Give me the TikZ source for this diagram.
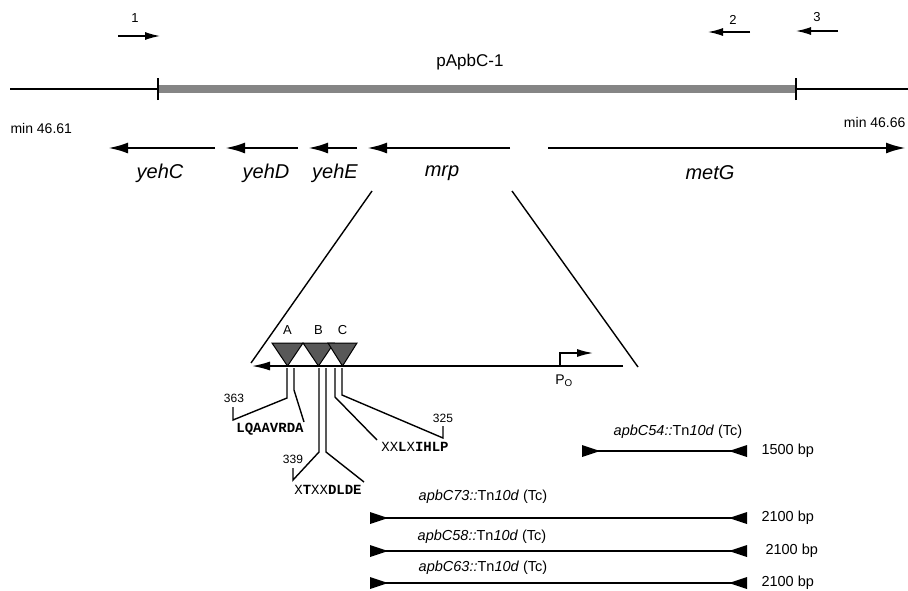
\documentclass[tikz,border=0pt]{standalone}
\usepackage{fontspec}
\setmainfont{Liberation Sans}
\newfontfamily\seqfont{Liberation Mono}
\usetikzlibrary{arrows.meta,positioning}
\definecolor{Insert}{HTML}{858585}
\definecolor{Motif}{HTML}{585858}
\tikzset{
  chrom/.style={line width=2.4pt},
  gene/.style={line width=2.6pt,-{Latex[length=20pt,width=11pt]}},
  primer/.style={line width=1.3pt,-{Latex[length=15pt,width=8pt]}},
  link/.style={line width=1.4pt},
  tnline/.style={line width=1.4pt},
  genelab/.style={font=\fontsize{20}{24}\selectfont\itshape},
  smalllab/.style={font=\fontsize{13}{15}\selectfont},
  numlab/.style={font=\fontsize{12}{14}\selectfont},
  seqlab/.style={font=\fontsize{14}{16}\selectfont\seqfont},
  tnlab/.style={font=\fontsize{14.5}{17}\selectfont},
  motif/.style={draw=black,line width=1pt,fill=Motif}
}
\begin{document}
\begin{tikzpicture}[x=1pt,y=-1pt]
  \useasboundingbox (0,0) rectangle (908,590);
  % primers
  \foreach \id/\xa/\xb/\y/\lx/\ly in {1/118/160/36/135/18, 2/750/708/32/733/20, 3/838/796/31/817/17}{
    \coordinate (pr\id-s) at (\xa,\y);
    \coordinate (pr\id-e) at (\xb,\y);
    \draw[primer] (pr\id-s) -- (pr\id-e);
    \node[smalllab] (prlab\id) at (\lx,\ly) {\id};
  }
  % chromosome and insert
  \coordinate (chrL) at (10,89);
  \coordinate (insL) at (158,89);
  \coordinate (insR) at (796,89);
  \coordinate (chrR) at (908,89);
  \draw[chrom] (chrL) -- (insL);
  \draw[chrom] (insR) -- (chrR);
  \draw[line width=8pt,Insert] (insL) -- (insR);
  \draw[line width=1.3pt] ([yshift=-11pt]insL) -- ([yshift=11pt]insL);
  \draw[line width=1.3pt] ([yshift=-11pt]insR) -- ([yshift=11pt]insR);
  \node[font=\fontsize{17}{20}\selectfont] (plasmid) at (470,62) {pApbC-1};
  \node[font=\fontsize{14}{16}\selectfont,anchor=west] (minL) at (7,128) {min 46.61};
  \node[font=\fontsize{14}{16}\selectfont,anchor=east] (minR) at (909,122) {min 46.66};
  % genes
  \foreach \g/\xa/\xb/\lx in {yehC/215/108/160, yehD/298/225/266, yehE/357/308/335, mrp/510/367/442, metG/548/906/710}{
    \coordinate (\g-s) at (\xa,148);
    \coordinate (\g-e) at (\xb,148);
    \draw[gene] (\g-s) -- (\g-e);
    \node[genelab] (\g-lab) at (\lx,173) {\g};
  }
  % blow-up of mrp
  \coordinate (mrpL) at (372,191);
  \coordinate (mrpR) at (512,191);
  \coordinate (zoomL) at (251,363);
  \coordinate (zoomR) at (638,367);
  \draw[link] (mrpL) -- (zoomL);
  \draw[link] (mrpR) -- (zoomR);
  \coordinate (mrpEnd) at (623,366);
  \coordinate (mrpTip) at (252,366);
  \draw[line width=1.5pt,-{Latex[length=18pt,width=9pt]}] (mrpEnd) -- (mrpTip);
  \foreach \m/\xa/\xb in {A/272/303, B/303/334, C/328/357}{
    \filldraw[motif] (\xa,343) -- (\xb,343) -- ({(\xa+\xb)/2},366) -- cycle;
    \node[smalllab] (mot\m) at ({(\xa+\xb)/2},330) {\m};
  }
  % promoter
  \coordinate (prom) at (560,366);
  \coordinate (promTip) at (593,353);
  \draw[line width=1.4pt,-{Latex[length=16pt,width=8pt]}] (prom) |- (promTip);
  \node[font=\fontsize{14}{16}\selectfont] (po) at (564,381) {P\textsubscript{O}};
  % motif sequences
  \node[seqlab] (seqA) at (270,429) {\bfseries LQAAVRDA};
  \node[numlab] (numA) at (234,398) {363};
  \draw[link] (287,368) -- (287,398) -- (233,420) -- (233,407);
  \draw[link] (294,368) -- (294,390) -- (304,422);
  \node[seqlab] (seqB) at (328,490) {X\textbf{T}XX\textbf{DLDE}};
  \node[numlab] (numB) at (293,459) {339};
  \draw[link] (319,368) -- (319,452) -- (293,480) -- (293,468);
  \draw[link] (326,368) -- (326,452) -- (364,482);
  \node[seqlab] (seqC) at (415,447) {XX\textbf{L}X\textbf{IHLP}};
  \node[numlab] (numC) at (443,418) {325};
  \draw[link] (335,368) -- (335,397) -- (377,440);
  \draw[link] (342,368) -- (342,395) -- (443,438) -- (443,426);
  % Tn10d insertions
  \foreach \id/\y/\xl/\lx/\ly/\bx/\bp in {54/451/582/678/432/758/1500, 73/518/370/483/497/758/2100, 58/551/370/482/537/762/2100, 63/583/370/483/568/758/2100}{
    \coordinate (tn\id-l) at (\xl,\y);
    \coordinate (tn\id-r) at (747,\y);
    \draw[tnline] (tn\id-l) -- (tn\id-r);
    \fill (tn\id-l) ++(0,-6) -- ++(18,6) -- ++(-18,6) -- cycle;
    \fill (tn\id-r) ++(0,-6) -- ++(-18,6) -- ++(18,6) -- cycle;
    \node[tnlab] (tnlab\id) at (\lx,\ly) {\textit{apbC\id::}Tn\textit{10d} (Tc)};
    \node[tnlab,anchor=west] (bp\id) at (\bx,\y) {\bp{} bp};
  }
\end{tikzpicture}
\end{document}
